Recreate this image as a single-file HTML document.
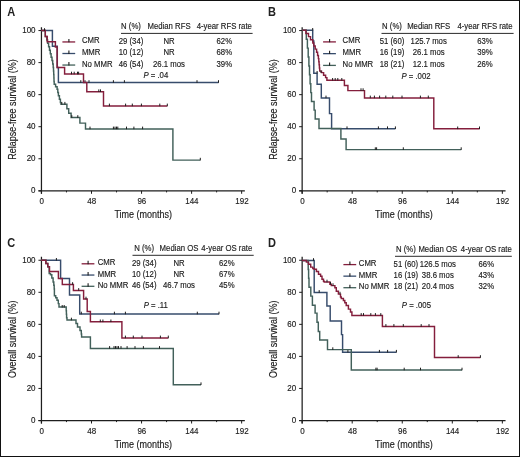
<!DOCTYPE html>
<html><head><meta charset="utf-8"><style>
html,body{margin:0;padding:0;background:#fff;}
svg{display:block;will-change:transform;}
text{font-family:"Liberation Sans", sans-serif;}
</style></head><body>
<svg width="520" height="457" viewBox="0 0 520 457" font-family='"Liberation Sans", sans-serif' fill="#222">
<rect x="0.5" y="0.5" width="519" height="456" fill="#fff" stroke="#111" stroke-width="1"/>
<path d="M41.45 27.15 V193.70 M38.45 190.80 H244.85" stroke="#1e1e1e" stroke-width="1.25" fill="none"/>
<path d="M38.45 190.80 H41.45 M38.45 158.75 H41.45 M38.45 126.70 H41.45 M38.45 94.65 H41.45 M38.45 62.60 H41.45 M38.45 30.55 H41.45 M41.45 190.80 V193.80 M91.50 190.80 V193.80 M141.55 190.80 V193.80 M191.60 190.80 V193.80 M241.65 190.80 V193.80 M66.47 190.80 V192.40 M116.52 190.80 V192.40 M166.57 190.80 V192.40 M216.62 190.80 V192.40 " stroke="#1e1e1e" stroke-width="1" fill="none"/>
<text transform="translate(35.55 193.40) scale(0.91 1)" font-size="8.8" text-anchor="end" stroke="#1a1a1a" stroke-width="0.15">0</text>
<text transform="translate(35.55 161.35) scale(0.91 1)" font-size="8.8" text-anchor="end" stroke="#1a1a1a" stroke-width="0.15">20</text>
<text transform="translate(35.55 129.30) scale(0.91 1)" font-size="8.8" text-anchor="end" stroke="#1a1a1a" stroke-width="0.15">40</text>
<text transform="translate(35.55 97.25) scale(0.91 1)" font-size="8.8" text-anchor="end" stroke="#1a1a1a" stroke-width="0.15">60</text>
<text transform="translate(35.55 65.20) scale(0.91 1)" font-size="8.8" text-anchor="end" stroke="#1a1a1a" stroke-width="0.15">80</text>
<text transform="translate(35.55 33.15) scale(0.91 1)" font-size="8.8" text-anchor="end" stroke="#1a1a1a" stroke-width="0.15">100</text>
<text transform="translate(41.75 203.70) scale(0.91 1)" font-size="8.8" text-anchor="middle" stroke="#1a1a1a" stroke-width="0.15">0</text>
<text transform="translate(91.80 203.70) scale(0.91 1)" font-size="8.8" text-anchor="middle" stroke="#1a1a1a" stroke-width="0.15">48</text>
<text transform="translate(141.85 203.70) scale(0.91 1)" font-size="8.8" text-anchor="middle" stroke="#1a1a1a" stroke-width="0.15">96</text>
<text transform="translate(191.90 203.70) scale(0.91 1)" font-size="8.8" text-anchor="middle" stroke="#1a1a1a" stroke-width="0.15">144</text>
<text transform="translate(241.95 203.70) scale(0.91 1)" font-size="8.8" text-anchor="middle" stroke="#1a1a1a" stroke-width="0.15">192</text>
<text x="143.25" y="217.60" font-size="10.2" text-anchor="middle" textLength="57.7" lengthAdjust="spacingAndGlyphs" stroke="#1a1a1a" stroke-width="0.15">Time (months)</text>
<text transform="translate(15.90 109.50) rotate(-90)" font-size="10.8" text-anchor="middle" stroke="#1a1a1a" stroke-width="0.15" textLength="100.3" lengthAdjust="spacingAndGlyphs">Relapse-free survival (%)</text>
<text transform="translate(7.30 16.10) scale(0.92 1)" font-size="12" font-weight="bold">A</text>
<path d="M62.40 41.95 H75.20" stroke="#841e3c" stroke-width="1.3"/>
<path d="M68.90 38.95 V42.35" stroke="#1e1e1e" stroke-width="1.1"/>
<text transform="translate(81.90 43.45) scale(0.925 1)" font-size="8.4" stroke="#1a1a1a" stroke-width="0.15">CMR</text>
<path d="M62.40 53.50 H75.20" stroke="#374c6c" stroke-width="1.3"/>
<path d="M68.90 50.50 V53.90" stroke="#1e1e1e" stroke-width="1.1"/>
<text transform="translate(81.90 55.00) scale(0.925 1)" font-size="8.4" stroke="#1a1a1a" stroke-width="0.15">MMR</text>
<path d="M62.40 65.05 H75.20" stroke="#42605a" stroke-width="1.3"/>
<path d="M68.90 62.05 V65.45" stroke="#1e1e1e" stroke-width="1.1"/>
<text transform="translate(81.90 66.55) scale(0.925 1)" font-size="8.4" stroke="#1a1a1a" stroke-width="0.15">No MMR</text>
<text transform="translate(131.00 28.90) scale(0.925 1)" font-size="8.4" text-anchor="middle" stroke="#1a1a1a" stroke-width="0.15">N (%)</text>
<text transform="translate(169.00 28.90) scale(0.925 1)" font-size="8.4" text-anchor="middle" stroke="#1a1a1a" stroke-width="0.15">Median RFS</text>
<text transform="translate(224.30 28.90) scale(0.925 1)" font-size="8.4" text-anchor="middle" stroke="#1a1a1a" stroke-width="0.15">4-year RFS rate</text>
<path d="M121.00 33.40 H252.60" stroke="#2a2a2a" stroke-width="1.0"/>
<text transform="translate(131.00 43.50) scale(0.925 1)" font-size="8.4" text-anchor="middle" stroke="#1a1a1a" stroke-width="0.15">29 (34)</text>
<text transform="translate(169.00 43.50) scale(0.925 1)" font-size="8.4" text-anchor="middle" stroke="#1a1a1a" stroke-width="0.15">NR</text>
<text transform="translate(224.30 43.50) scale(0.925 1)" font-size="8.4" text-anchor="middle" stroke="#1a1a1a" stroke-width="0.15">62%</text>
<text transform="translate(131.00 55.00) scale(0.925 1)" font-size="8.4" text-anchor="middle" stroke="#1a1a1a" stroke-width="0.15">10 (12)</text>
<text transform="translate(169.00 55.00) scale(0.925 1)" font-size="8.4" text-anchor="middle" stroke="#1a1a1a" stroke-width="0.15">NR</text>
<text transform="translate(224.30 55.00) scale(0.925 1)" font-size="8.4" text-anchor="middle" stroke="#1a1a1a" stroke-width="0.15">68%</text>
<text transform="translate(131.00 66.50) scale(0.925 1)" font-size="8.4" text-anchor="middle" stroke="#1a1a1a" stroke-width="0.15">46 (54)</text>
<text transform="translate(169.00 66.50) scale(0.925 1)" font-size="8.4" text-anchor="middle" stroke="#1a1a1a" stroke-width="0.15">26.1 mos</text>
<text transform="translate(224.30 66.50) scale(0.925 1)" font-size="8.4" text-anchor="middle" stroke="#1a1a1a" stroke-width="0.15">39%</text>
<text transform="translate(155.80 77.60) scale(0.925 1)" font-size="8.4" text-anchor="middle" stroke="#1a1a1a" stroke-width="0.15"><tspan font-style="italic">P</tspan> = .04</text>
<path d="M302.15 27.15 V193.70 M299.15 190.80 H505.55" stroke="#1e1e1e" stroke-width="1.25" fill="none"/>
<path d="M299.15 190.80 H302.15 M299.15 158.75 H302.15 M299.15 126.70 H302.15 M299.15 94.65 H302.15 M299.15 62.60 H302.15 M299.15 30.55 H302.15 M302.15 190.80 V193.80 M352.20 190.80 V193.80 M402.25 190.80 V193.80 M452.30 190.80 V193.80 M502.35 190.80 V193.80 M327.17 190.80 V192.40 M377.22 190.80 V192.40 M427.27 190.80 V192.40 M477.32 190.80 V192.40 " stroke="#1e1e1e" stroke-width="1" fill="none"/>
<text transform="translate(296.25 193.40) scale(0.91 1)" font-size="8.8" text-anchor="end" stroke="#1a1a1a" stroke-width="0.15">0</text>
<text transform="translate(296.25 161.35) scale(0.91 1)" font-size="8.8" text-anchor="end" stroke="#1a1a1a" stroke-width="0.15">20</text>
<text transform="translate(296.25 129.30) scale(0.91 1)" font-size="8.8" text-anchor="end" stroke="#1a1a1a" stroke-width="0.15">40</text>
<text transform="translate(296.25 97.25) scale(0.91 1)" font-size="8.8" text-anchor="end" stroke="#1a1a1a" stroke-width="0.15">60</text>
<text transform="translate(296.25 65.20) scale(0.91 1)" font-size="8.8" text-anchor="end" stroke="#1a1a1a" stroke-width="0.15">80</text>
<text transform="translate(296.25 33.15) scale(0.91 1)" font-size="8.8" text-anchor="end" stroke="#1a1a1a" stroke-width="0.15">100</text>
<text transform="translate(302.45 203.70) scale(0.91 1)" font-size="8.8" text-anchor="middle" stroke="#1a1a1a" stroke-width="0.15">0</text>
<text transform="translate(352.50 203.70) scale(0.91 1)" font-size="8.8" text-anchor="middle" stroke="#1a1a1a" stroke-width="0.15">48</text>
<text transform="translate(402.55 203.70) scale(0.91 1)" font-size="8.8" text-anchor="middle" stroke="#1a1a1a" stroke-width="0.15">96</text>
<text transform="translate(452.60 203.70) scale(0.91 1)" font-size="8.8" text-anchor="middle" stroke="#1a1a1a" stroke-width="0.15">144</text>
<text transform="translate(502.65 203.70) scale(0.91 1)" font-size="8.8" text-anchor="middle" stroke="#1a1a1a" stroke-width="0.15">192</text>
<text x="403.95" y="217.60" font-size="10.2" text-anchor="middle" textLength="57.7" lengthAdjust="spacingAndGlyphs" stroke="#1a1a1a" stroke-width="0.15">Time (months)</text>
<text transform="translate(276.60 109.50) rotate(-90)" font-size="10.8" text-anchor="middle" stroke="#1a1a1a" stroke-width="0.15" textLength="100.3" lengthAdjust="spacingAndGlyphs">Relapse-free survival (%)</text>
<text transform="translate(268.00 16.10) scale(0.92 1)" font-size="12" font-weight="bold">B</text>
<path d="M323.10 41.90 H335.90" stroke="#841e3c" stroke-width="1.3"/>
<path d="M329.60 38.90 V42.30" stroke="#1e1e1e" stroke-width="1.1"/>
<text transform="translate(342.60 43.40) scale(0.925 1)" font-size="8.4" stroke="#1a1a1a" stroke-width="0.15">CMR</text>
<path d="M323.10 53.65 H335.90" stroke="#374c6c" stroke-width="1.3"/>
<path d="M329.60 50.65 V54.05" stroke="#1e1e1e" stroke-width="1.1"/>
<text transform="translate(342.60 55.15) scale(0.925 1)" font-size="8.4" stroke="#1a1a1a" stroke-width="0.15">MMR</text>
<path d="M323.10 65.40 H335.90" stroke="#42605a" stroke-width="1.3"/>
<path d="M329.60 62.40 V65.80" stroke="#1e1e1e" stroke-width="1.1"/>
<text transform="translate(342.60 66.90) scale(0.925 1)" font-size="8.4" stroke="#1a1a1a" stroke-width="0.15">No MMR</text>
<text transform="translate(392.00 28.90) scale(0.925 1)" font-size="8.4" text-anchor="middle" stroke="#1a1a1a" stroke-width="0.15">N (%)</text>
<text transform="translate(428.70 28.90) scale(0.925 1)" font-size="8.4" text-anchor="middle" stroke="#1a1a1a" stroke-width="0.15">Median RFS</text>
<text transform="translate(485.00 28.90) scale(0.925 1)" font-size="8.4" text-anchor="middle" stroke="#1a1a1a" stroke-width="0.15">4-year RFS rate</text>
<path d="M381.50 33.40 H513.60" stroke="#2a2a2a" stroke-width="1.0"/>
<text transform="translate(392.00 43.50) scale(0.925 1)" font-size="8.4" text-anchor="middle" stroke="#1a1a1a" stroke-width="0.15">51 (60)</text>
<text transform="translate(428.70 43.50) scale(0.925 1)" font-size="8.4" text-anchor="middle" stroke="#1a1a1a" stroke-width="0.15">125.7 mos</text>
<text transform="translate(485.00 43.50) scale(0.925 1)" font-size="8.4" text-anchor="middle" stroke="#1a1a1a" stroke-width="0.15">63%</text>
<text transform="translate(392.00 55.00) scale(0.925 1)" font-size="8.4" text-anchor="middle" stroke="#1a1a1a" stroke-width="0.15">16 (19)</text>
<text transform="translate(428.70 55.00) scale(0.925 1)" font-size="8.4" text-anchor="middle" stroke="#1a1a1a" stroke-width="0.15">26.1 mos</text>
<text transform="translate(485.00 55.00) scale(0.925 1)" font-size="8.4" text-anchor="middle" stroke="#1a1a1a" stroke-width="0.15">39%</text>
<text transform="translate(392.00 66.50) scale(0.925 1)" font-size="8.4" text-anchor="middle" stroke="#1a1a1a" stroke-width="0.15">18 (21)</text>
<text transform="translate(428.70 66.50) scale(0.925 1)" font-size="8.4" text-anchor="middle" stroke="#1a1a1a" stroke-width="0.15">12.1 mos</text>
<text transform="translate(485.00 66.50) scale(0.925 1)" font-size="8.4" text-anchor="middle" stroke="#1a1a1a" stroke-width="0.15">26%</text>
<text transform="translate(416.00 78.50) scale(0.925 1)" font-size="8.4" text-anchor="middle" stroke="#1a1a1a" stroke-width="0.15"><tspan font-style="italic">P</tspan> = .002</text>
<path d="M41.45 256.85 V423.40 M38.45 420.50 H244.85" stroke="#1e1e1e" stroke-width="1.25" fill="none"/>
<path d="M38.45 420.50 H41.45 M38.45 388.45 H41.45 M38.45 356.40 H41.45 M38.45 324.35 H41.45 M38.45 292.30 H41.45 M38.45 260.25 H41.45 M41.45 420.50 V423.50 M91.50 420.50 V423.50 M141.55 420.50 V423.50 M191.60 420.50 V423.50 M241.65 420.50 V423.50 M66.47 420.50 V422.10 M116.52 420.50 V422.10 M166.57 420.50 V422.10 M216.62 420.50 V422.10 " stroke="#1e1e1e" stroke-width="1" fill="none"/>
<text transform="translate(35.55 423.10) scale(0.91 1)" font-size="8.8" text-anchor="end" stroke="#1a1a1a" stroke-width="0.15">0</text>
<text transform="translate(35.55 391.05) scale(0.91 1)" font-size="8.8" text-anchor="end" stroke="#1a1a1a" stroke-width="0.15">20</text>
<text transform="translate(35.55 359.00) scale(0.91 1)" font-size="8.8" text-anchor="end" stroke="#1a1a1a" stroke-width="0.15">40</text>
<text transform="translate(35.55 326.95) scale(0.91 1)" font-size="8.8" text-anchor="end" stroke="#1a1a1a" stroke-width="0.15">60</text>
<text transform="translate(35.55 294.90) scale(0.91 1)" font-size="8.8" text-anchor="end" stroke="#1a1a1a" stroke-width="0.15">80</text>
<text transform="translate(35.55 262.85) scale(0.91 1)" font-size="8.8" text-anchor="end" stroke="#1a1a1a" stroke-width="0.15">100</text>
<text transform="translate(41.75 433.90) scale(0.91 1)" font-size="8.8" text-anchor="middle" stroke="#1a1a1a" stroke-width="0.15">0</text>
<text transform="translate(91.80 433.90) scale(0.91 1)" font-size="8.8" text-anchor="middle" stroke="#1a1a1a" stroke-width="0.15">48</text>
<text transform="translate(141.85 433.90) scale(0.91 1)" font-size="8.8" text-anchor="middle" stroke="#1a1a1a" stroke-width="0.15">96</text>
<text transform="translate(191.90 433.90) scale(0.91 1)" font-size="8.8" text-anchor="middle" stroke="#1a1a1a" stroke-width="0.15">144</text>
<text transform="translate(241.95 433.90) scale(0.91 1)" font-size="8.8" text-anchor="middle" stroke="#1a1a1a" stroke-width="0.15">192</text>
<text x="143.25" y="447.80" font-size="10.2" text-anchor="middle" textLength="57.7" lengthAdjust="spacingAndGlyphs" stroke="#1a1a1a" stroke-width="0.15">Time (months)</text>
<text transform="translate(15.90 339.30) rotate(-90)" font-size="10.8" text-anchor="middle" stroke="#1a1a1a" stroke-width="0.15" textLength="77.4" lengthAdjust="spacingAndGlyphs">Overall survival (%)</text>
<text transform="translate(7.30 247.00) scale(0.92 1)" font-size="12" font-weight="bold">C</text>
<path d="M81.60 263.80 H94.40" stroke="#841e3c" stroke-width="1.3"/>
<path d="M88.10 260.80 V264.20" stroke="#1e1e1e" stroke-width="1.1"/>
<text transform="translate(97.70 265.30) scale(0.925 1)" font-size="8.4" stroke="#1a1a1a" stroke-width="0.15">CMR</text>
<path d="M81.60 275.05 H94.40" stroke="#374c6c" stroke-width="1.3"/>
<path d="M88.10 272.05 V275.45" stroke="#1e1e1e" stroke-width="1.1"/>
<text transform="translate(97.70 276.55) scale(0.925 1)" font-size="8.4" stroke="#1a1a1a" stroke-width="0.15">MMR</text>
<path d="M81.60 286.30 H94.40" stroke="#42605a" stroke-width="1.3"/>
<path d="M88.10 283.30 V286.70" stroke="#1e1e1e" stroke-width="1.1"/>
<text transform="translate(97.70 287.80) scale(0.925 1)" font-size="8.4" stroke="#1a1a1a" stroke-width="0.15">No MMR</text>
<text transform="translate(144.20 250.90) scale(0.925 1)" font-size="8.4" text-anchor="middle" stroke="#1a1a1a" stroke-width="0.15">N (%)</text>
<text transform="translate(179.00 250.90) scale(0.925 1)" font-size="8.4" text-anchor="middle" stroke="#1a1a1a" stroke-width="0.15">Median OS</text>
<text transform="translate(226.80 250.90) scale(0.925 1)" font-size="8.4" text-anchor="middle" stroke="#1a1a1a" stroke-width="0.15">4-year OS rate</text>
<path d="M132.50 255.30 H253.70" stroke="#2a2a2a" stroke-width="1.0"/>
<text transform="translate(144.20 265.60) scale(0.925 1)" font-size="8.4" text-anchor="middle" stroke="#1a1a1a" stroke-width="0.15">29 (34)</text>
<text transform="translate(179.00 265.60) scale(0.925 1)" font-size="8.4" text-anchor="middle" stroke="#1a1a1a" stroke-width="0.15">NR</text>
<text transform="translate(226.80 265.60) scale(0.925 1)" font-size="8.4" text-anchor="middle" stroke="#1a1a1a" stroke-width="0.15">62%</text>
<text transform="translate(144.20 276.80) scale(0.925 1)" font-size="8.4" text-anchor="middle" stroke="#1a1a1a" stroke-width="0.15">10 (12)</text>
<text transform="translate(179.00 276.80) scale(0.925 1)" font-size="8.4" text-anchor="middle" stroke="#1a1a1a" stroke-width="0.15">NR</text>
<text transform="translate(226.80 276.80) scale(0.925 1)" font-size="8.4" text-anchor="middle" stroke="#1a1a1a" stroke-width="0.15">67%</text>
<text transform="translate(144.20 288.20) scale(0.925 1)" font-size="8.4" text-anchor="middle" stroke="#1a1a1a" stroke-width="0.15">46 (54)</text>
<text transform="translate(179.00 288.20) scale(0.925 1)" font-size="8.4" text-anchor="middle" stroke="#1a1a1a" stroke-width="0.15">46.7 mos</text>
<text transform="translate(226.80 288.20) scale(0.925 1)" font-size="8.4" text-anchor="middle" stroke="#1a1a1a" stroke-width="0.15">45%</text>
<text transform="translate(155.80 307.50) scale(0.925 1)" font-size="8.4" text-anchor="middle" stroke="#1a1a1a" stroke-width="0.15"><tspan font-style="italic">P</tspan> = .11</text>
<path d="M302.15 256.85 V423.40 M299.15 420.50 H505.55" stroke="#1e1e1e" stroke-width="1.25" fill="none"/>
<path d="M299.15 420.50 H302.15 M299.15 388.45 H302.15 M299.15 356.40 H302.15 M299.15 324.35 H302.15 M299.15 292.30 H302.15 M299.15 260.25 H302.15 M302.15 420.50 V423.50 M352.20 420.50 V423.50 M402.25 420.50 V423.50 M452.30 420.50 V423.50 M502.35 420.50 V423.50 M327.17 420.50 V422.10 M377.22 420.50 V422.10 M427.27 420.50 V422.10 M477.32 420.50 V422.10 " stroke="#1e1e1e" stroke-width="1" fill="none"/>
<text transform="translate(296.25 423.10) scale(0.91 1)" font-size="8.8" text-anchor="end" stroke="#1a1a1a" stroke-width="0.15">0</text>
<text transform="translate(296.25 391.05) scale(0.91 1)" font-size="8.8" text-anchor="end" stroke="#1a1a1a" stroke-width="0.15">20</text>
<text transform="translate(296.25 359.00) scale(0.91 1)" font-size="8.8" text-anchor="end" stroke="#1a1a1a" stroke-width="0.15">40</text>
<text transform="translate(296.25 326.95) scale(0.91 1)" font-size="8.8" text-anchor="end" stroke="#1a1a1a" stroke-width="0.15">60</text>
<text transform="translate(296.25 294.90) scale(0.91 1)" font-size="8.8" text-anchor="end" stroke="#1a1a1a" stroke-width="0.15">80</text>
<text transform="translate(296.25 262.85) scale(0.91 1)" font-size="8.8" text-anchor="end" stroke="#1a1a1a" stroke-width="0.15">100</text>
<text transform="translate(302.45 433.90) scale(0.91 1)" font-size="8.8" text-anchor="middle" stroke="#1a1a1a" stroke-width="0.15">0</text>
<text transform="translate(352.50 433.90) scale(0.91 1)" font-size="8.8" text-anchor="middle" stroke="#1a1a1a" stroke-width="0.15">48</text>
<text transform="translate(402.55 433.90) scale(0.91 1)" font-size="8.8" text-anchor="middle" stroke="#1a1a1a" stroke-width="0.15">96</text>
<text transform="translate(452.60 433.90) scale(0.91 1)" font-size="8.8" text-anchor="middle" stroke="#1a1a1a" stroke-width="0.15">144</text>
<text transform="translate(502.65 433.90) scale(0.91 1)" font-size="8.8" text-anchor="middle" stroke="#1a1a1a" stroke-width="0.15">192</text>
<text x="403.95" y="447.80" font-size="10.2" text-anchor="middle" textLength="57.7" lengthAdjust="spacingAndGlyphs" stroke="#1a1a1a" stroke-width="0.15">Time (months)</text>
<text transform="translate(276.60 339.30) rotate(-90)" font-size="10.8" text-anchor="middle" stroke="#1a1a1a" stroke-width="0.15" textLength="77.4" lengthAdjust="spacingAndGlyphs">Overall survival (%)</text>
<text transform="translate(268.00 247.00) scale(0.92 1)" font-size="12" font-weight="bold">D</text>
<path d="M343.40 264.60 H356.20" stroke="#841e3c" stroke-width="1.3"/>
<path d="M349.90 261.60 V265.00" stroke="#1e1e1e" stroke-width="1.1"/>
<text transform="translate(358.80 266.10) scale(0.925 1)" font-size="8.4" stroke="#1a1a1a" stroke-width="0.15">CMR</text>
<path d="M343.40 276.15 H356.20" stroke="#374c6c" stroke-width="1.3"/>
<path d="M349.90 273.15 V276.55" stroke="#1e1e1e" stroke-width="1.1"/>
<text transform="translate(358.80 277.65) scale(0.925 1)" font-size="8.4" stroke="#1a1a1a" stroke-width="0.15">MMR</text>
<path d="M343.40 287.70 H356.20" stroke="#42605a" stroke-width="1.3"/>
<path d="M349.90 284.70 V288.10" stroke="#1e1e1e" stroke-width="1.1"/>
<text transform="translate(358.80 289.20) scale(0.925 1)" font-size="8.4" stroke="#1a1a1a" stroke-width="0.15">No MMR</text>
<text transform="translate(405.90 252.20) scale(0.925 1)" font-size="8.4" text-anchor="middle" stroke="#1a1a1a" stroke-width="0.15">N (%)</text>
<text transform="translate(437.80 252.20) scale(0.925 1)" font-size="8.4" text-anchor="middle" stroke="#1a1a1a" stroke-width="0.15">Median OS</text>
<text transform="translate(486.30 252.20) scale(0.925 1)" font-size="8.4" text-anchor="middle" stroke="#1a1a1a" stroke-width="0.15">4-year OS rate</text>
<path d="M395.00 256.30 H511.80" stroke="#2a2a2a" stroke-width="1.0"/>
<text transform="translate(405.90 266.90) scale(0.925 1)" font-size="8.4" text-anchor="middle" stroke="#1a1a1a" stroke-width="0.15">51 (60)</text>
<text transform="translate(437.80 266.90) scale(0.925 1)" font-size="8.4" text-anchor="middle" stroke="#1a1a1a" stroke-width="0.15">126.5 mos</text>
<text transform="translate(486.30 266.90) scale(0.925 1)" font-size="8.4" text-anchor="middle" stroke="#1a1a1a" stroke-width="0.15">66%</text>
<text transform="translate(405.90 278.00) scale(0.925 1)" font-size="8.4" text-anchor="middle" stroke="#1a1a1a" stroke-width="0.15">16 (19)</text>
<text transform="translate(437.80 278.00) scale(0.925 1)" font-size="8.4" text-anchor="middle" stroke="#1a1a1a" stroke-width="0.15">38.6 mos</text>
<text transform="translate(486.30 278.00) scale(0.925 1)" font-size="8.4" text-anchor="middle" stroke="#1a1a1a" stroke-width="0.15">43%</text>
<text transform="translate(405.90 289.30) scale(0.925 1)" font-size="8.4" text-anchor="middle" stroke="#1a1a1a" stroke-width="0.15">18 (21)</text>
<text transform="translate(437.80 289.30) scale(0.925 1)" font-size="8.4" text-anchor="middle" stroke="#1a1a1a" stroke-width="0.15">20.4 mos</text>
<text transform="translate(486.30 289.30) scale(0.925 1)" font-size="8.4" text-anchor="middle" stroke="#1a1a1a" stroke-width="0.15">32%</text>
<text transform="translate(416.40 308.00) scale(0.925 1)" font-size="8.4" text-anchor="middle" stroke="#1a1a1a" stroke-width="0.15"><tspan font-style="italic">P</tspan> = .005</text>
<path d="M41.2 30.5 H52.4 V46.3 H57.3 V67.4 H58.4 V82.5 H218.5" stroke="#374c6c" stroke-width="1.45" fill="none" stroke-linejoin="miter"/>
<path d="M80.80 80.20 V82.80 M85.00 80.20 V82.80 M89.00 80.20 V82.80 M113.40 80.20 V82.80 M124.40 80.20 V82.80 M197.00 80.20 V82.80 M218.50 80.20 V82.80 " stroke="#1e1e1e" stroke-width="1" fill="none"/>
<path d="M41.2 30.5 H45.3 V36.5 H46.8 V40 H47.6 V43.3 H48.6 V46.8 H49.5 V50.3 H50.3 V53.8 H51.1 V57.3 H52.0 V60.5 H52.7 V64 H53.2 V67.5 H53.5 V71 H53.7 V74.5 H53.9 V78 H54.0 V81.5 H54.2 V84.2 H55.6 V86.7 H57.1 V89.3 H57.8 V92.5 H58.4 V95.7 H59.4 V99.2 H60.4 V102.6 H61 V104.2 H66.9 V108.8 H68.7 V113.3 H71.1 V117.5 H79.9 V123.1 H85.5 V128.9 H172.9 V160.1 H200.3" stroke="#42605a" stroke-width="1.45" fill="none" stroke-linejoin="miter"/>
<path d="M61.80 101.90 V104.50 M64.90 101.90 V104.50 M71.80 115.20 V117.80 M77.80 115.20 V117.80 M90.00 126.60 V129.20 M113.40 126.60 V129.20 M115.00 126.60 V129.20 M116.50 126.60 V129.20 M117.80 126.60 V129.20 M126.50 126.60 V129.20 M133.90 126.60 V129.20 M142.60 126.60 V129.20 M200.30 157.80 V160.40 " stroke="#1e1e1e" stroke-width="1" fill="none"/>
<path d="M41.2 30.5 H45.3 V36.5 H47.2 V41.8 H55.4 V47.0 H57.1 V67.4 H64.6 V74.0 H83.5 V82.4 H86.8 V91.7 H103.5 V105.9 H167.3" stroke="#841e3c" stroke-width="1.45" fill="none" stroke-linejoin="miter"/>
<path d="M44.50 28.20 V30.80 M71.50 71.70 V74.30 M74.20 71.70 V74.30 M77.50 71.70 V74.30 M78.60 71.70 V74.30 M98.80 89.40 V92.00 M100.50 89.40 V92.00 M109.40 103.60 V106.20 M125.60 103.60 V106.20 M132.30 103.60 V106.20 M141.40 103.60 V106.20 M159.80 103.60 V106.20 M167.30 103.60 V106.20 " stroke="#1e1e1e" stroke-width="1" fill="none"/>
<path d="M302.6 30.3 H312.7 V41 H313.8 V73.3 H317.1 V84.2 H321.3 V97.9 H329.5 V113.6 H331.6 V128.7 H395.4" stroke="#374c6c" stroke-width="1.45" fill="none" stroke-linejoin="miter"/>
<path d="M312.70 28.00 V30.60 M317.10 71.00 V73.60 M326.00 95.60 V98.20 M347.00 126.40 V129.00 M378.40 126.40 V129.00 M387.50 126.40 V129.00 M395.40 126.40 V129.00 " stroke="#1e1e1e" stroke-width="1" fill="none"/>
<path d="M302.6 30.3 H306.3 V39.2 H307.4 V48.1 H308.2 V57 H308.9 V65.9 H309.5 V74.8 H310.1 V83.7 H310.8 V92.6 H311.5 V101.4 H314.1 V110.1 H315.2 V118.9 H319 V128.5 H340.9 V139 H346.1 V149.6 H461.2" stroke="#42605a" stroke-width="1.45" fill="none" stroke-linejoin="miter"/>
<path d="M375.30 147.30 V149.90 M376.60 147.30 V149.90 M403.30 147.30 V149.90 M461.20 147.30 V149.90 " stroke="#1e1e1e" stroke-width="1" fill="none"/>
<path d="M302.6 30.3 H305.9 V33.4 H308.5 V36.6 H310.5 V39.7 H312.8 V42.9 H313.8 V46 H315.2 V49.1 H316.6 V52.3 H317.6 V55.4 H318.4 V58.6 H318.8 V61.7 H319.1 V64.8 H319.4 V68 H319.7 V71.1 H321.5 V72.6 H323.6 V75.3 H325.6 V77.6 H326.9 V80.3 H344.4 V85.4 H347.9 V90.6 H364.5 V97.9 H433.8 V128.8 H479.5" stroke="#841e3c" stroke-width="1.45" fill="none" stroke-linejoin="miter"/>
<path d="M321.00 70.30 V72.90 M332.60 78.00 V80.60 M335.20 78.00 V80.60 M337.80 78.00 V80.60 M341.80 78.00 V80.60 M361.00 88.30 V90.90 M363.10 88.30 V90.90 M370.30 95.60 V98.20 M374.40 95.60 V98.20 M379.60 95.60 V98.20 M385.80 95.60 V98.20 M392.80 95.60 V98.20 M402.00 95.60 V98.20 M420.40 95.60 V98.20 M428.30 95.60 V98.20 M457.70 126.50 V129.10 M479.50 126.50 V129.10 " stroke="#1e1e1e" stroke-width="1" fill="none"/>
<path d="M41.2 260.3 H60.6 V278.4 H69.5 V295 H79.7 V314.0 H219" stroke="#374c6c" stroke-width="1.45" fill="none" stroke-linejoin="miter"/>
<path d="M56.40 258.00 V260.60 M81.30 311.70 V314.30 M114.40 311.70 V314.30 M125.40 311.70 V314.30 M197.30 311.70 V314.30 M219.00 311.70 V314.30 " stroke="#1e1e1e" stroke-width="1" fill="none"/>
<path d="M41.2 260.3 H45.9 V263.5 H47.8 V266.8 H49.2 V273.4 H50.5 V274.7 H51.8 V278 H53.1 V281.9 H53.8 V285.2 H54.2 V289 H54.4 V295.7 H55.7 V297.7 H57 V300.3 H58.3 V303.6 H59 V307.0 H66.2 V310.8 H66.4 V314.3 H66.6 V317.8 H67 V320 H76 V323.5 H77.5 V327 H80 V330.4 H81.3 V333.9 H81.6 V337 H90.4 V348.4 H173.3 V384.7 H201.0" stroke="#42605a" stroke-width="1.45" fill="none" stroke-linejoin="miter"/>
<path d="M62.20 305.00 V307.60 M64.20 305.00 V307.60 M71.40 317.70 V320.30 M109.60 346.10 V348.70 M114.00 346.10 V348.70 M115.50 346.10 V348.70 M117.00 346.10 V348.70 M118.50 346.10 V348.70 M121.00 346.10 V348.70 M127.10 346.10 V348.70 M135.00 346.10 V348.70 M143.40 346.10 V348.70 M159.50 346.10 V348.70 M201.00 382.40 V385.00 " stroke="#1e1e1e" stroke-width="1" fill="none"/>
<path d="M41.2 260.3 H45.9 V263.5 H47.8 V266.8 H49.5 V271.4 H58.4 V278.4 H62.3 V284.5 H73.4 V290.4 H83.6 V299 H87.2 V311.4 H90.4 V321.8 H121.9 V337.9 H168.3" stroke="#841e3c" stroke-width="1.45" fill="none" stroke-linejoin="miter"/>
<path d="M72.60 282.20 V284.80 M78.70 288.10 V290.70 M86.00 296.70 V299.30 M100.30 319.50 V322.10 M102.90 319.50 V322.10 M110.90 319.50 V322.10 M125.40 335.60 V338.20 M133.30 335.60 V338.20 M142.00 335.60 V338.20 M160.40 335.60 V338.20 M168.30 335.60 V338.20 " stroke="#1e1e1e" stroke-width="1" fill="none"/>
<path d="M301.9 260.5 H314.2 V292.4 H326.9 V305.9 H330.2 V321 H341.5 V334.6 H342.6 V352.2 H396.4" stroke="#374c6c" stroke-width="1.45" fill="none" stroke-linejoin="miter"/>
<path d="M313.50 258.20 V260.80 M319.20 290.10 V292.70 M347.90 349.90 V352.50 M379.40 349.90 V352.50 M387.60 349.90 V352.50 M396.40 349.90 V352.50 " stroke="#1e1e1e" stroke-width="1" fill="none"/>
<path d="M301.9 260.5 H308.2 V269.4 H308.6 V278.3 H309.0 V287.2 H310.8 V296.1 H312.4 V305.2 H315.1 V313.1 H317 V322.3 H318.3 V331.5 H319.7 V340 H327.5 V349.6 H351.3 V370.0 H462" stroke="#42605a" stroke-width="1.45" fill="none" stroke-linejoin="miter"/>
<path d="M332.80 347.30 V349.90 M375.90 367.70 V370.30 M377.10 367.70 V370.30 M404.20 367.70 V370.30 M420.50 367.70 V370.30 M462.00 367.70 V370.30 " stroke="#1e1e1e" stroke-width="1" fill="none"/>
<path d="M301.9 260.5 H306.4 V262.1 H308.5 V264.2 H310.7 V267.1 H312.8 V268.5 H314.2 V269.2 H316.4 V271.4 H318.5 V274.2 H320.6 V276.3 H322 V279.2 H323.5 V281.3 H324.2 V282 H329.9 V284.2 H331.3 V285.6 H334.9 V287.7 H336.3 V291.3 H338.4 V294.1 H340.5 V297 H341.3 V298.4 H343.4 V300.5 H344.8 V302.7 H346.2 V305.5 H348.4 V309.1 H350.5 V311.9 H351.9 V315.4 H382.4 V326.4 H434.5 V357.5 H480.4" stroke="#841e3c" stroke-width="1.45" fill="none" stroke-linejoin="miter"/>
<path d="M327.00 279.70 V282.30 M330.50 281.90 V284.50 M333.00 283.30 V285.90 M340.00 291.80 V294.40 M361.20 313.10 V315.70 M363.50 313.10 V315.70 M370.80 313.10 V315.70 M375.40 313.10 V315.70 M380.80 313.10 V315.70 M385.90 324.10 V326.70 M393.90 324.10 V326.70 M403.30 324.10 V326.70 M421.20 324.10 V326.70 M429.00 324.10 V326.70 M458.20 355.20 V357.80 M480.40 355.20 V357.80 " stroke="#1e1e1e" stroke-width="1" fill="none"/>
</svg>
</body></html>
